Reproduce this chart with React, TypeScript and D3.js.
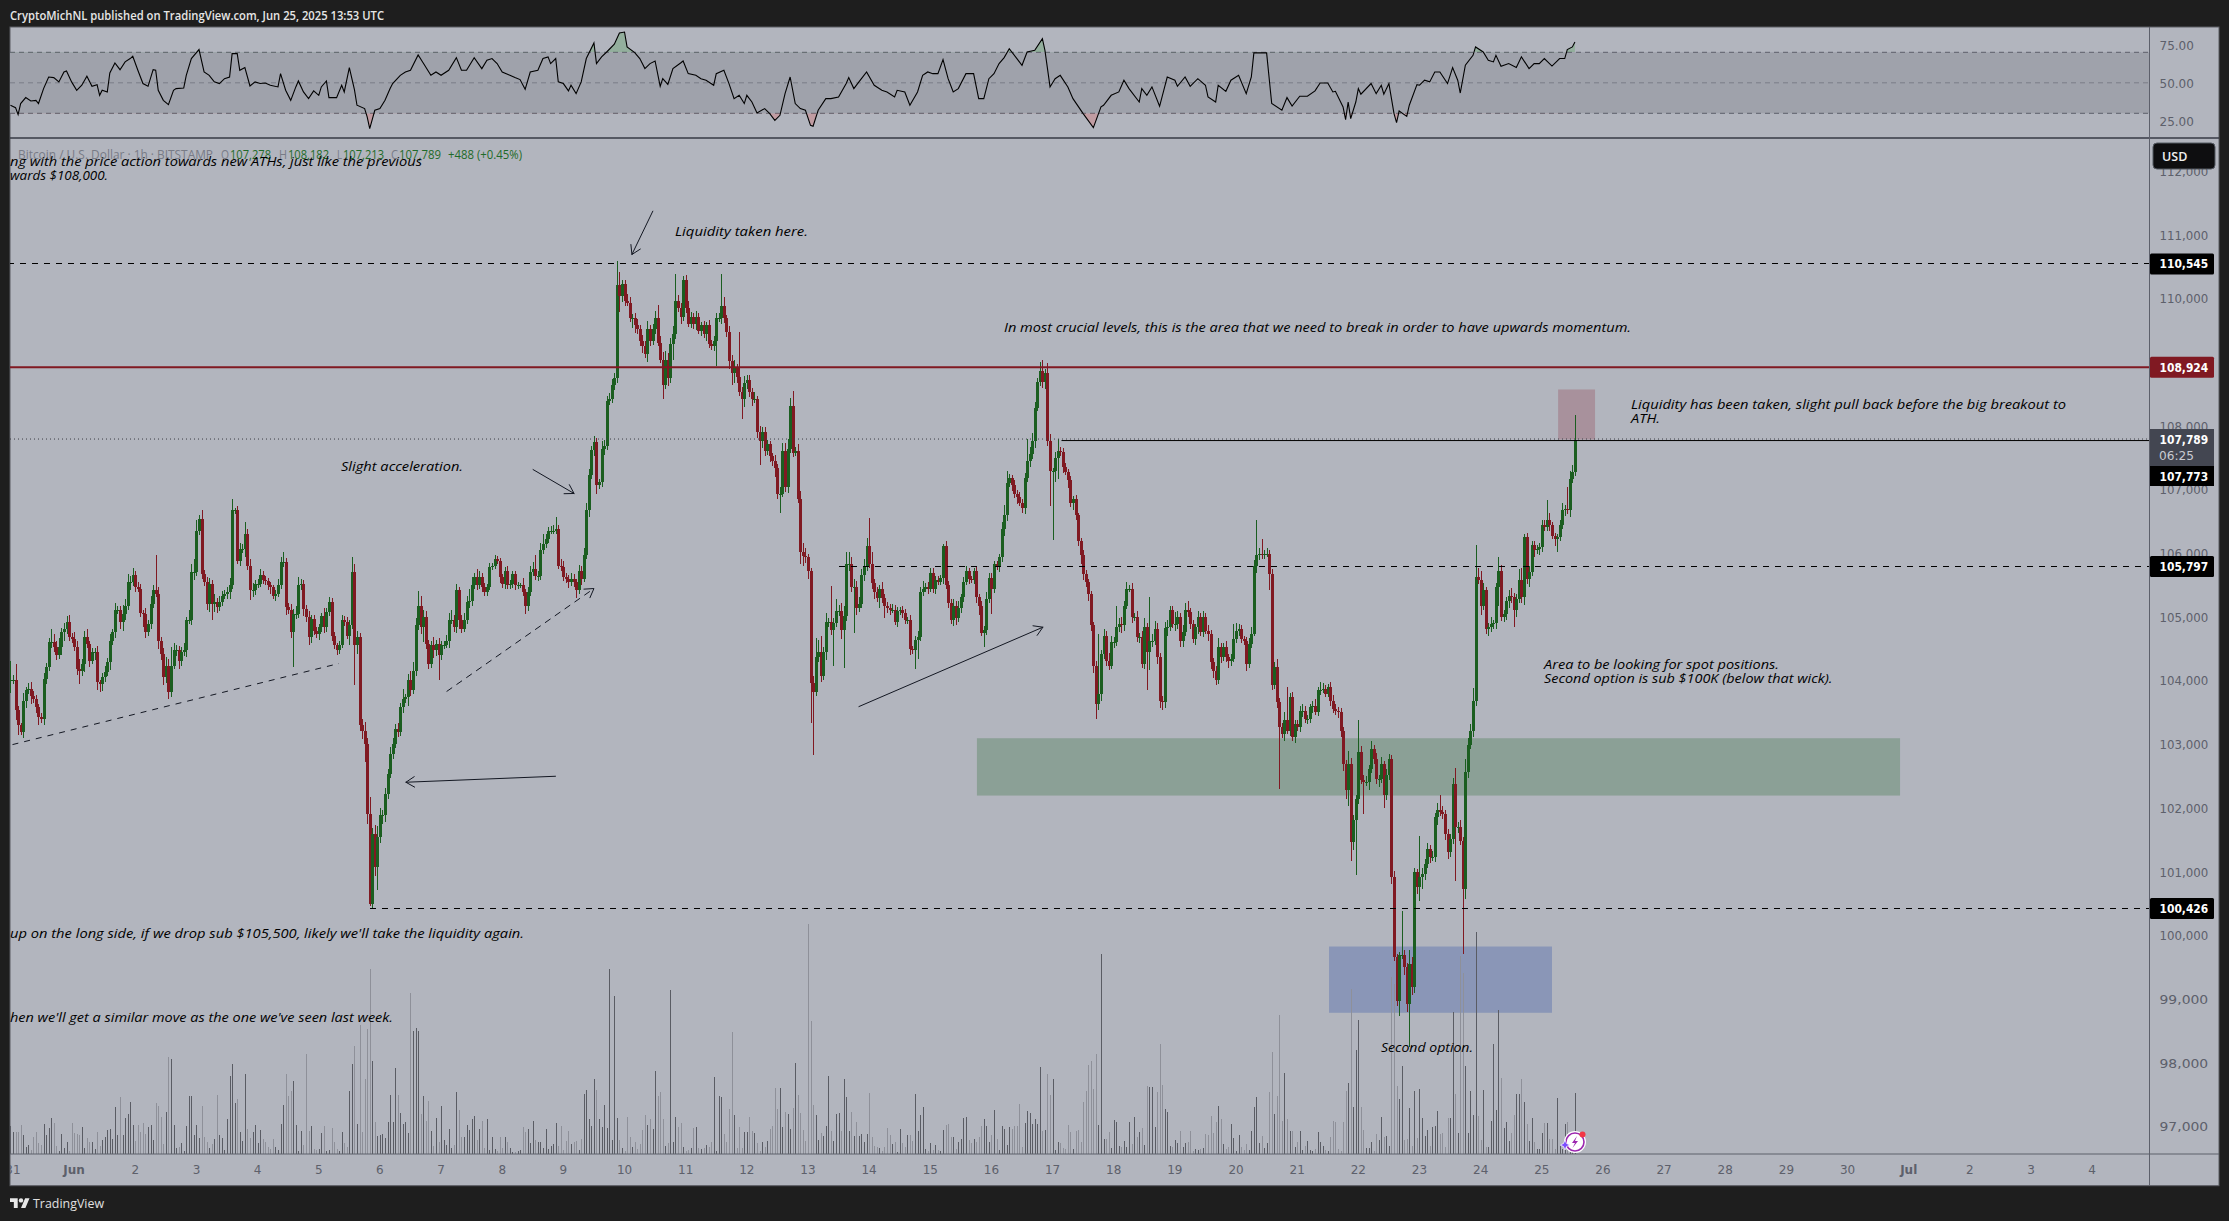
import React from "react";
import * as d3 from "d3";

// ---------- chart values ----------
// hourly closes, first value is May 30 22:00 UTC; rows are whole days from May 31
const closes = [
104010,104010,
104010,103540,103300,103200,103690,103850,103880,103770,103720,103590,103430,103400,104030,104220,104610,104610,104530,104400,104530,104770,104820,104920,104690,104660,
104530,104190,104160,104270,104690,104580,104320,104450,104450,103980,103950,104060,104140,104290,104630,104770,105110,105110,104920,105050,105180,105550,105550,105670,
105470,105450,105070,105050,104770,104900,105210,105420,105370,104630,104430,104060,104240,103820,104240,104480,104480,104320,104450,104480,104950,104950,105710,105710,
106360,106540,105680,105550,105210,105520,105210,105240,105160,105240,105340,105370,105390,105500,106680,106680,105890,106070,106070,106310,105810,105420,105420,105520,
105520,105660,105580,105570,105500,105470,105340,105370,105500,105860,105860,105160,105110,104770,105050,105050,105500,105520,105130,105000,104690,104970,104790,104740,
104840,105020,104840,105080,105240,104710,104560,104480,104560,104950,104920,104710,104870,105710,104560,104690,103300,103220,103010,101910,100500,101600,101080,101550,
101890,101890,102230,102540,102860,103010,103250,103200,103590,103720,103740,104010,103850,104160,104870,105180,104840,105000,104580,104270,104570,104480,104580,104400,
104560,104560,104630,104950,104950,104840,105420,104950,104820,104950,105240,105260,105500,105630,105500,105630,105470,105390,105470,105790,105810,105920,105890,105630,
105520,105730,105500,105520,105680,105500,105500,105500,105390,105180,105390,105710,105750,105640,105640,106050,106150,106230,106360,106360,106360,106390,105810,105790,
105630,105600,105550,105600,105550,105430,105730,105600,105970,106680,107230,107620,107750,107070,107130,107640,107690,108400,108420,108640,108750,110210,110040,110230,
109960,109940,109690,109690,109580,109530,109340,109260,109130,109530,109340,109530,109690,109310,109040,108640,109040,108750,109290,109450,109960,109850,109720,110290,
109860,109610,109720,109610,109720,109500,109580,109450,109580,109290,109260,109340,109690,109690,109880,109690,109480,109020,108830,108910,108770,108530,108420,108670,
108720,108530,108420,108420,107910,107770,107910,107610,107720,107530,107450,107340,106940,106940,107610,107040,107640,108310,107580,107610,106850,106020,105960,105940,
105720,103960,103830,104370,104450,104070,104450,104930,104930,104800,104910,105100,105100,104800,105020,105830,105830,105480,105480,105150,105200,105660,105800,106120,
105830,105530,105390,105300,105450,105300,105180,105150,105120,105120,104930,105100,105120,105070,104960,104960,104500,104480,104640,104690,105390,105450,105480,105450,
105690,105450,105590,105560,105610,106120,105500,105230,104960,105180,104990,105150,105310,105560,105720,105600,105590,105720,105310,105180,104750,104800,105290,105610,
105450,105830,105800,105940,106390,106610,107100,107180,107070,106940,106880,106800,106720,107180,107450,107560,107770,108290,108690,108860,108690,108830,107770,107290,
107290,107500,107610,107590,107360,107280,107150,106790,106860,106600,106200,105970,105680,105550,105370,104870,104240,103640,103800,104430,104710,104320,104240,104610,
104610,104840,104900,104870,105180,105450,105450,105000,105000,104690,104690,104270,104840,104450,104630,104630,104820,104370,103690,103670,104830,104840,105110,104900,
104900,105000,104630,104760,105110,105080,104900,104660,104840,105000,104760,105000,104790,104740,104290,104160,104010,104530,104370,104530,104370,104320,104350,104660,
104790,104820,104660,104630,104270,104580,104740,105810,105970,106000,105970,106000,106000,105680,103930,104220,103670,103270,103170,103380,103220,103740,103120,103320,
103270,103530,103530,103400,103400,103590,103610,103510,103850,103860,103870,103800,103900,103690,103560,103530,103510,103220,102700,102280,102700,101470,101810,102150,
102880,102440,102410,102410,102620,102930,102780,102460,102460,102700,102210,102520,102780,100920,99660,98980,99690,99690,99510,98930,99560,99190,101000,100760,
100920,100970,101130,101360,101230,101230,101860,101970,101940,101910,101600,101310,101520,102380,101700,101700,101490,100740,102570,102990,103220,103690,105630,105580,
105180,105420,104820,104840,104900,104910,105470,105730,105000,105050,105260,105340,105310,105110,105290,105580,105310,106260,105600,105710,106130,106050,106070,106100,
106440,106410,106520,106440,106280,106230,106260,106440,106680,106700,106680,107170,107278,107789,
];
// distance of each high above the candle body, in dollars
const wickUp = [
150,300,
80,260,60,40,120,50,90,110,70,60,40,60,90,60,70,200,120,100,140,60,90,100,120,60,
110,90,160,80,100,120,50,60,70,100,40,60,90,70,100,50,120,70,60,140,100,130,90,110,
60,90,70,50,100,60,130,80,550,110,60,90,140,100,300,120,90,70,80,110,60,160,130,200,
160,70,140,60,80,100,60,120,60,90,70,60,80,120,170,30,60,100,80,180,70,100,110,60,
80,90,70,60,50,60,40,50,100,90,160,70,60,90,80,120,130,80,70,60,90,60,70,50,
60,50,130,60,70,60,50,40,60,90,70,80,90,235,120,90,60,100,130,100,260,90,130,170,
120,80,90,70,100,90,80,90,70,150,60,100,150,130,110,235,150,120,90,60,50,120,60,100,
70,60,90,110,160,90,100,60,80,120,90,180,130,60,120,100,70,60,50,60,40,60,40,40,
50,60,70,60,50,50,60,40,110,60,90,100,120,230,90,110,150,80,60,70,80,190,50,100,
90,60,70,90,80,50,90,80,110,120,90,70,90,60,40,120,90,80,100,100,80,380,210,60,
60,110,80,70,90,100,60,90,80,120,60,70,110,216,100,130,140,110,90,120,430,100,90,60,
80,100,70,60,80,50,60,70,60,90,60,70,90,80,513,150,60,90,100,120,60,700,90,120,
90,80,70,120,60,90,70,80,60,50,40,90,60,100,120,130,150,135,240,60,110,130,140,120,
50,60,120,300,190,250,80,130,60,565,80,180,90,130,160,200,190,110,120,90,110,100,120,130,
430,200,70,80,60,100,70,60,50,90,70,60,40,60,60,50,70,50,60,90,80,120,60,70,
80,90,60,50,60,30,80,70,60,110,70,100,60,70,90,60,50,60,90,60,70,60,110,90,
80,60,50,60,100,150,190,70,60,80,50,90,60,80,350,110,120,90,70,140,170,60,160,100,
60,90,180,60,70,60,50,60,50,60,40,50,90,60,50,40,60,70,940,60,110,70,120,90,
80,340,90,100,80,105,60,90,70,100,60,90,140,70,690,110,120,90,70,80,100,120,70,60,
180,90,60,110,120,150,70,60,60,90,60,100,60,80,60,70,80,150,70,60,90,50,80,235,
120,70,60,50,60,90,100,90,550,90,220,50,90,60,80,70,120,60,70,130,520,70,90,70,
60,80,100,70,60,50,70,110,60,130,90,60,50,80,90,70,60,60,50,60,200,90,90,60,
500,100,80,100,60,130,70,90,60,100,50,90,70,60,100,60,60,700,90,60,220,100,60,50,
640,90,70,100,60,100,70,120,235,90,60,80,70,90,260,80,110,60,210,110,100,200,500,150,
150,120,60,70,100,50,70,220,90,60,60,90,120,70,80,180,200,50,60,90,70,60,60,60,
90,80,320,120,60,40,50,90,110,60,340,120,110,393,
];
// distance of each low below the candle body, in dollars
const wickDown = [
250,200,
60,160,150,50,90,110,60,130,70,90,120,60,100,80,60,90,70,70,60,120,150,80,60,70,
60,90,210,80,130,70,100,60,120,130,120,110,80,60,120,70,90,60,100,130,90,60,120,60,
80,60,60,210,90,70,80,60,60,130,100,120,90,110,70,60,90,130,90,60,100,60,70,120,
60,70,80,60,90,130,260,130,100,60,70,60,80,100,60,60,60,90,60,130,70,150,100,70,
60,50,60,70,80,100,60,80,60,50,70,130,60,100,550,80,60,70,110,70,120,90,70,60,
100,80,90,70,60,80,60,80,60,50,60,50,150,60,630,130,90,130,280,150,30,60,150,370,
100,140,100,80,70,90,60,80,70,100,60,130,90,60,80,70,110,230,80,90,60,120,90,390,
70,60,50,120,60,80,90,130,70,60,50,90,80,60,70,60,80,60,50,40,50,60,60,90,
60,80,60,50,60,70,50,40,60,130,90,60,60,60,70,50,60,60,60,50,60,50,60,70,
60,70,90,60,80,130,60,90,50,60,100,60,90,140,60,80,90,60,70,60,80,70,243,90,
70,60,50,150,120,90,80,110,60,120,90,60,80,60,50,216,60,120,80,260,90,60,110,70,
90,60,70,80,100,60,90,60,120,70,60,80,400,60,90,70,80,120,190,150,90,60,313,120,
90,70,100,60,90,378,120,80,60,100,70,140,90,297,60,70,90,70,60,50,60,190,150,90,
120,620,1000,60,70,90,60,120,90,80,570,60,80,150,600,80,110,90,730,120,70,60,90,70,
60,90,100,60,150,70,190,90,80,60,50,80,60,90,60,70,90,60,300,300,70,60,60,80,
50,70,80,60,50,90,60,80,70,100,120,60,90,70,60,80,60,70,90,140,50,210,80,60,
400,70,60,90,70,110,100,60,90,70,110,60,80,100,60,90,70,120,60,60,90,110,80,540,
1080,160,330,60,90,50,120,60,100,70,80,130,90,80,120,90,120,243,100,120,80,90,70,60,
90,60,70,120,80,50,60,90,60,80,100,60,90,600,280,90,70,110,120,120,90,120,60,70,
110,80,100,90,60,70,80,60,90,100,60,70,50,110,100,120,70,60,90,60,70,110,90,60,
70,80,60,60,110,60,60,40,120,70,60,50,60,260,80,60,90,970,60,120,60,80,60,90,
60,70,90,60,80,60,100,50,60,70,50,60,60,90,70,60,90,100,120,130,240,290,130,860,
90,60,500,60,120,70,80,80,120,60,200,80,70,110,60,90,235,60,120,130,680,120,90,100,
210,180,90,70,90,60,70,120,60,80,90,110,70,80,840,90,60,1020,157,90,60,100,90,60,
150,60,90,110,70,90,100,290,60,70,90,120,80,260,100,60,90,120,80,120,70,100,60,90,
70,60,50,80,60,120,210,70,60,90,60,100,70,65,
];
const volumes = [
10,28,
22,22,22,29,19,7,9,4,17,22,11,9,30,19,26,36,31,8,3,20,6,12,3,31,
21,20,19,27,6,16,12,12,5,22,8,14,17,24,25,15,47,19,57,19,36,40,52,29,
13,29,22,31,20,27,29,14,51,48,37,10,42,97,95,29,6,7,11,3,28,58,58,19,
29,16,48,17,12,6,10,15,59,19,16,4,35,78,90,51,55,22,13,80,25,16,22,29,
11,24,15,12,7,5,15,7,4,30,49,80,58,63,73,29,3,23,9,100,23,28,5,4,
5,21,28,3,4,26,12,5,3,22,11,7,63,90,108,30,129,22,75,125,185,93,32,18,
19,20,16,32,59,32,86,59,41,30,32,21,161,123,126,123,40,58,33,53,23,8,36,12,
48,14,9,25,6,9,62,44,17,17,29,24,35,38,14,25,33,6,35,4,17,5,3,17,
6,17,12,6,2,2,3,4,27,22,25,11,33,14,12,12,6,25,5,8,10,31,8,28,
4,13,23,10,12,13,4,15,60,64,35,28,75,64,35,27,49,26,185,14,158,36,14,6,
3,37,17,7,12,5,10,24,39,29,35,25,83,58,62,35,8,11,164,12,37,27,31,7,
3,4,6,26,27,6,5,6,9,7,12,77,3,58,57,20,12,45,122,39,6,27,6,22,
22,37,23,21,11,3,12,7,13,25,28,66,45,66,27,42,40,25,46,91,59,41,24,13,
230,133,49,39,14,21,18,28,78,23,13,40,41,23,75,57,23,42,18,32,18,20,12,20,
61,17,8,7,6,3,7,26,19,10,12,2,25,11,7,19,19,13,60,23,39,47,5,3,
11,4,9,4,3,24,29,30,17,17,5,12,15,36,37,14,11,15,12,17,28,35,28,12,
19,44,15,4,28,25,9,27,25,28,28,50,7,31,43,41,30,35,30,87,23,24,80,59,
75,4,12,11,6,5,29,22,5,23,24,12,52,63,89,93,65,100,29,200,15,15,22,6,
34,32,8,7,13,7,32,10,37,17,22,26,9,68,67,67,27,62,110,69,45,42,8,7,
14,11,23,7,11,12,23,3,5,4,5,6,20,19,38,21,32,48,35,10,5,7,30,16,
3,19,7,4,10,4,23,47,57,11,18,6,11,62,102,40,58,139,33,81,35,23,23,7,
12,23,4,8,13,4,3,5,22,12,8,4,3,17,33,32,5,3,32,63,71,165,47,104,
134,47,24,6,6,12,3,20,14,37,17,18,8,177,170,68,55,88,14,15,46,8,63,16,
65,36,18,24,8,27,28,43,20,21,7,36,36,142,60,21,198,181,88,21,63,39,222,38,
14,64,7,7,33,110,44,144,76,26,32,13,21,39,60,60,75,52,30,13,36,12,5,5,
21,31,31,15,15,5,56,10,5,30,32,5,3,61,
];
const rsiHours = [-1,1,2,3,5,7,9,10,12,14,16,18,20,21,23,25,27,29,31,33,34,35,37,38,40,42,44,46,47,49,51,53,55,56,57,59,61,63,64,67,68,70,73,75,77,79,81,83,85,86,88,89,91,93,95,97,99,101,104,105,107,109,111,112,114,116,118,120,121,123,124,127,129,130,132,134,135,138,139,140,142,144,146,148,149,152,154,156,159,161,164,166,168,171,174,176,178,181,184,186,188,190,192,195,197,199,201,203,206,208,210,211,213,214,216,218,219,221,223,225,228,229,231,233,236,238,240,241,244,246,248,250,252,254,255,257,259,262,263,265,268,270,272,275,276,279,281,283,285,287,288,290,292,295,297,299,301,303,305,307,309,311,313,314,316,319,321,324,327,328,330,332,335,338,341,343,346,347,350,352,355,357,359,361,363,365,367,369,371,374,377,379,381,383,385,387,389,391,394,396,398,401,404,405,407,409,411,414,416,420,424,427,428,431,434,436,438,442,443,445,447,450,453,456,457,460,462,465,468,469,472,473,476,478,481,484,486,487,492,494,498,500,502,505,508,511,513,516,518,519,522,523,524,525,527,528,529,533,535,537,538,540,542,543,544,547,548,551,552,554,556,558,560,563,565,567,568,570,573,574,577,579,581,582,584,587,590,592,595,597,599,601,604,607,609,610,612,613];
const rsiValues = [35.3,33.7,29.1,36.4,40.3,38.1,38.5,36.4,46.2,53.8,53.4,50.6,57.1,57.8,50.6,45.1,48.4,54.3,47.7,48.8,41.8,45.1,44,56.5,63,58.6,63.7,65.9,67.4,58.2,49.5,47.7,58.6,58.2,45.1,38.5,35.7,45.1,46.2,46.6,54.9,65.9,71.8,57.1,54.9,50.6,49.5,52.7,53.8,69.1,69.1,58.2,60,47.9,50.6,49.5,49.9,48.4,47.3,56,45.1,38.5,47.3,51.2,44,39.6,44.7,41.8,47.3,51.2,40.3,40.3,48.4,44,60,45.5,35.3,33.1,27.6,20,32,33.1,38.5,46.2,49.5,54.9,57.1,58.2,68.3,63,54.9,57.1,54.9,58.2,66.5,58.2,58.2,66.5,59.3,64.8,65.9,62.6,57.1,54.9,53.4,52.1,45.7,57.1,58.2,65.9,67,62.6,65.9,50.6,49.5,44.7,48.4,42.9,50.6,65.9,76.1,62.6,67,70.2,75.3,82.7,83.3,73.5,69.8,65.9,59.3,62.6,64.3,47.7,52.7,49,59.3,63,64.3,56,54.9,52.7,51.7,48.4,56,58.2,49.5,39.6,41.8,36.4,41.8,37.4,30.2,33.1,29.8,25.4,28.7,42.9,53.8,36.4,33.1,32,22.1,21.5,32,39.6,39.6,40.7,49.5,53.4,46.2,50.6,57.1,48.4,45.1,44,40.7,45.1,44,35.3,44,54.9,57.1,56,56,65.2,52.7,44,46.2,56,56,39.6,39.6,52.7,56,62.6,66.5,72.4,65.9,61.5,70.2,71.3,79,71.3,47.3,52.7,54.9,47.3,39.6,29.8,20.6,34.2,35.3,41.8,44,51.7,46.2,37.4,46.2,41.8,47.3,34.6,53.8,51.7,47.7,53.8,47.7,52.7,48.4,40.7,37.4,48.4,44.4,51.7,54.9,42.9,53.8,69.6,69.6,36.4,32,40.3,34.8,41.2,41.2,44.7,49.9,49.9,44,44.4,34.2,25.9,37.4,26.5,37.4,46.2,42.5,49.5,42.9,48.4,42.5,49.5,29.8,23.9,31.5,28,35.3,48.8,48.4,51.7,50.6,57.1,57.1,49.5,60,51.7,43.3,61.5,68,73.5,70.2,64.8,63.7,68,60.8,62.6,60,67,59.3,62.6,62.6,65.9,61,65.9,65.9,71.8,73.5,76.8];

const priceTicks = [112000,111000,110000,109000,108000,107000,106000,105000,104000,103000,102000,101000,100000,99000,98000,97000];
const rsiTicks = [75,50,25];
const rsiLevels = [70,50,30];
const dayLabels = ["31","Jun","2","3","4","5","6","7","8","9","10","11","12","13","14","15","16","17","18","19","20","21","22","23","24","25","26","27","28","29","30","Jul","2","3","4"];
const priceLevels = [
  { price: 110545, from: -2, dash: "6 6" },
  { price: 105797, from: 324, dash: "6 6" },
  { price: 100426, from: 140.3, dash: "6 6" },
];
const labelBoxes = [
  { price: 110545, label: "110,545", fill: "#000000" },
  { price: 108924, label: "108,924", fill: "#801922" },
  { price: 105797, label: "105,797", fill: "#000000" },
  { price: 100426, label: "100,426", fill: "#000000" },
];
const zones = [
  { h0: 378.3, h1: 740.6, p0: 103100, p1: 102200, fill: "#8ba096" },
  { h0: 606.4, h1: 620.9, p0: 108575, p1: 107789, fill: "#a8919c" },
  { h0: 516.5, h1: 604, p0: 99830, p1: 98790, fill: "#8a96b7" },
];
const arrows = [
  { h0: 251.1, p0: 111374, h1: 242.9, p1: 110694, dash: "" },
  { h0: 204.1, p0: 107318, h1: 220.2, p1: 106942, dash: "" },
  { h0: 212.9, p0: 102503, h1: 154.2, p1: 102409, dash: "" },
  { h0: 332, p0: 103597, h1: 404.2, p1: 104843, dash: "" },
  { h0: 170.3, p0: 103837, h1: 228, p1: 105450, dash: "6 6" },
];
const trendLine = { h0: -0.2, p0: 103000, h1: 127.9, p1: 104273 };
const notes = [
  { t: "ng with the price action towards new ATHs, just like the previous", x: 10, x2: 422, y: 161 },
  { t: "wards $108,000.", x: 10, x2: 108, y: 175 },
  { t: "Liquidity taken here.", x: 675, x2: 808, y: 231 },
  { t: "In most crucial levels, this is the area that we need to break in order to have upwards momentum.", x: 1004, x2: 1631, y: 327 },
  { t: "Slight acceleration.", x: 341, x2: 463, y: 466 },
  { t: "Liquidity has been taken, slight pull back before the big breakout to", x: 1631, x2: 2066, y: 404 },
  { t: "ATH.", x: 1631, x2: 1660, y: 418 },
  { t: "Area to be looking for spot positions.", x: 1544, x2: 1779, y: 664 },
  { t: "Second option is sub $100K (below that wick).", x: 1544, x2: 1832.5, y: 678 },
  { t: "up on the long side, if we drop sub $105,500, likely we'll take the liquidity again.", x: 10, x2: 524, y: 933 },
  { t: "hen we'll get a similar move as the one we've seen last week.", x: 10, x2: 393, y: 1017 },
  { t: "Second option.", x: 1381, x2: 1473, y: 1047 },
];
const legendParts = [
  { t: "Bitcoin / U.S. Dollar · 1h · BITSTAMP", x: 18, x2: 213, c: "#787b86" },
  { t: "O", x: 221, x2: 229, c: "#787b86" },
  { t: "107,278", x: 230, x2: 271, c: "#1f6b29" },
  { t: "H", x: 279, x2: 287, c: "#787b86" },
  { t: "108,182", x: 288, x2: 329, c: "#1f6b29" },
  { t: "L", x: 337, x2: 342, c: "#787b86" },
  { t: "107,213", x: 343, x2: 384, c: "#1f6b29" },
  { t: "C", x: 391, x2: 398, c: "#787b86" },
  { t: "107,789", x: 399, x2: 441, c: "#1f6b29" },
  { t: "+488 (+0.45%)", x: 448, x2: 522, c: "#1f6b29" },
];

// ---------- colours ----------
const DARK = "#1e1e1e";
const PANE = "#b2b5be";
const BAND = "#9fa2ab";
const UP = "#1b5e20";
const DOWN = "#801922";
const AXIS = "#5d606b";
const INK = "#131722";
const UI = "'DejaVu Sans', sans-serif";
const NOTE = "'Open Sans', sans-serif";

// ---------- layout ----------
const left = 10, right = 2149.5, paneRight = 2219, top = 27, rsiBottom = 138, bottom = 1154, end = 1185.7;

const x = d3.scaleLinear().domain([0, 744]).range([13, 13 + 2.548 * 744]);
const y = d3.scaleLinear().domain([111000, 97000]).range([235, 1126.8]);
const yRsi = d3.scaleLinear().domain([70, 30]).range([52.3, 113.3]);
const yVol = d3.scaleLinear().domain([0, 230]).range([bottom, bottom - 230]);

const candles = closes.map((c, i) => {
  const o = i === 0 ? c : closes[i - 1];
  const hi = Math.max(o, c) + (wickUp[i] ?? 0);
  const lo = Math.min(o, c) - (wickDown[i] ?? 0);
  return { h: i - 2, o, c, hi, lo, vol: volumes[i] ?? 0, up: c >= o };
});

const rsiPoints = rsiHours.map((h, i) => ({ h, v: rsiValues[i] }));
const rsiLine = d3.line<any>().x((d) => x(d.h)).y((d) => yRsi(d.v));
const rsiArea = (base: number) =>
  d3.area<any>().x((d) => x(d.h)).y0(yRsi(base)).y1((d) => yRsi(d.v));

const fmt = d3.format(",");

function Arrow({ a }: { a: (typeof arrows)[number] }) {
  const x0 = x(a.h0), y0 = y(a.p0), x1 = x(a.h1), y1 = y(a.p1);
  const ang = Math.atan2(y1 - y0, x1 - x0);
  const L = 10, S = 0.55;
  const p1 = [x1 - L * Math.cos(ang - S), y1 - L * Math.sin(ang - S)];
  const p2 = [x1 - L * Math.cos(ang + S), y1 - L * Math.sin(ang + S)];
  return (
    <g stroke={INK} strokeWidth={1} fill="none" strokeLinecap="round">
      <line x1={x0} y1={y0} x2={x1} y2={y1} strokeDasharray={a.dash || undefined} />
      <path d={`M${p1[0]},${p1[1]}L${x1},${y1}L${p2[0]},${p2[1]}`} />
    </g>
  );
}

export default function App() {
  return (
    <svg
      width={2229}
      height={1221}
      viewBox="0 0 2229 1221"
      style={{ position: "fixed", left: 0, top: 0, display: "block" }}
    >
      <defs>
        <clipPath id="mainClip"><rect x={left} y={rsiBottom} width={right - left} height={bottom - rsiBottom} /></clipPath>
        <clipPath id="rsiClip"><rect x={left} y={top} width={right - left} height={rsiBottom - top} /></clipPath>
        <clipPath id="rsiOver"><rect x={left} y={top} width={right - left} height={yRsi(70) - top} /></clipPath>
        <clipPath id="rsiUnder"><rect x={left} y={yRsi(30)} width={right - left} height={rsiBottom - yRsi(30)} /></clipPath>
        <clipPath id="timeClip"><rect x={left} y={bottom} width={right - left} height={end - bottom} /></clipPath>
      </defs>

      <rect x={0} y={0} width={2229} height={1221} fill={DARK} />
      <rect x={left} y={top} width={paneRight - left} height={end - top} fill={PANE} stroke="#5a5c63" strokeWidth={1} />

      <text x={10} y={19.5} fontFamily={NOTE} fontSize={12.5} fontWeight={600} fill="#e6e6e6" textLength={374} lengthAdjust="spacingAndGlyphs">
        CryptoMichNL published on TradingView.com, Jun 25, 2025 13:53 UTC
      </text>

      {/* RSI pane */}
      <g clipPath="url(#rsiClip)">
        <rect x={left} y={yRsi(70)} width={right - left} height={yRsi(30) - yRsi(70)} fill={BAND} />
        {rsiLevels.map((l) => (
          <line key={l} x1={left} x2={right} y1={yRsi(l)} y2={yRsi(l)} stroke={AXIS} strokeDasharray="5 4" strokeWidth={1} opacity={l === 50 ? 0.55 : 1} />
        ))}
        <path d={rsiArea(70)(rsiPoints) ?? ""} fill="#43a047" opacity={0.28} clipPath="url(#rsiOver)" />
        <path d={rsiArea(30)(rsiPoints) ?? ""} fill="#ef5350" opacity={0.25} clipPath="url(#rsiUnder)" />
        <path d={rsiLine(rsiPoints) ?? ""} fill="none" stroke="#000" strokeWidth={1.1} />
      </g>

      {/* main pane */}
      <g clipPath="url(#mainClip)">
        {zones.map((z, i) => (
          <rect key={i} x={x(z.h0)} y={y(z.p0)} width={x(z.h1) - x(z.h0)} height={y(z.p1) - y(z.p0)} fill={z.fill} />
        ))}
        <g shapeRendering="crispEdges">
          {candles.map((d) => (
            <rect key={d.h} x={Math.round(x(d.h))} y={yVol(d.vol)} width={1} height={bottom - yVol(d.vol)} fill={d.up ? "#5a5c64" : "#8e9099"} />
          ))}
          {candles.map((d) => {
            const col = d.up ? UP : DOWN;
            const top_ = y(Math.max(d.o, d.c));
            const h_ = Math.max(1, y(Math.min(d.o, d.c)) - top_);
            return (
              <g key={d.h} fill={col}>
                <rect x={Math.round(x(d.h))} y={y(d.hi)} width={1} height={y(d.lo) - y(d.hi)} />
                <rect x={Math.round(x(d.h)) - 1} y={top_} width={3} height={h_} />
              </g>
            );
          })}
        </g>
        {priceLevels.map((l) => (
          <line key={l.price} x1={x(l.from)} x2={right} y1={y(l.price)} y2={y(l.price)} stroke="#000" strokeDasharray={l.dash} strokeWidth={1} shapeRendering="crispEdges" />
        ))}
        <line x1={left} x2={right} y1={y(108924)} y2={y(108924)} stroke={DOWN} strokeWidth={2} />
        <line x1={left} x2={right} y1={y(107789) - 0.5} y2={y(107789) - 0.5} stroke="#3a3c44" strokeWidth={1} strokeDasharray="1 3" />
        <line x1={x(411.5)} x2={right} y1={y(107773)} y2={y(107773)} stroke="#000" strokeWidth={1} />
        <line x1={x(trendLine.h0)} y1={y(trendLine.p0)} x2={x(trendLine.h1)} y2={y(trendLine.p1)} stroke={INK} strokeWidth={1} strokeDasharray="6 6" />
        {arrows.map((a, i) => <Arrow key={i} a={a} />)}
        {legendParts.map((p, i) => (
          <text key={i} x={p.x} y={158.5} fontFamily={NOTE} fontSize={12} fill={p.c} textLength={p.x2 - p.x} lengthAdjust="spacingAndGlyphs">
            {p.t}
          </text>
        ))}
        {notes.map((n, i) => (
          <text key={i} x={n.x} y={n.y + 4.5} fontFamily={NOTE} fontStyle="italic" fontWeight={500} fontSize={13.5} fill="#000" textLength={n.x2 - n.x} lengthAdjust="spacingAndGlyphs">
            {n.t}
          </text>
        ))}
      </g>

      {/* spark badge */}
      <g>
        <circle cx={1575} cy={1142} r={11} fill="#ffffff" />
        <circle cx={1575} cy={1142} r={9} fill="none" stroke="#9c27b0" strokeWidth={1.6} />
        <path d="M1577,1136 L1572,1143 L1575,1143 L1572.5,1148 L1578,1141 L1575,1141 Z" fill="#9c27b0" />
        <circle cx={1582.5} cy={1134.5} r={3} fill="#f23645" />
        <path d="M1565,1140 L1566.5,1143.5 L1570,1145 L1566.5,1146.5 L1565,1150 L1563.5,1146.5 L1560,1145 L1563.5,1143.5 Z" fill="#7c4dff" stroke="#fff" strokeWidth={0.7} />
      </g>

      {/* frame lines */}
      <line x1={left} x2={paneRight} y1={rsiBottom} y2={rsiBottom} stroke="#363a45" strokeWidth={1.4} />
      <line x1={right} x2={right} y1={top} y2={end} stroke={AXIS} strokeWidth={1} />
      <line x1={left} x2={paneRight} y1={bottom} y2={bottom} stroke={AXIS} strokeWidth={1} />

      {/* RSI axis */}
      {rsiTicks.map((t) => (
        <text key={t} x={2159.5} y={yRsi(t) + 5} fontFamily={UI} fontSize={12} fill={AXIS}>{t.toFixed(2)}</text>
      ))}

      {/* price axis */}
      {priceTicks.map((t) => (
        <text key={t} x={2159.5} y={y(t) + 4.5} fontFamily={UI} fontSize={12} fill={AXIS} textLength={48.7} lengthAdjust="spacingAndGlyphs">{fmt(t)}</text>
      ))}

      {labelBoxes.map((b) => (
        <g key={b.price}>
          <rect x={2150} y={y(b.price) - 10.5} width={64} height={21} rx={1.5} fill={b.fill} />
          <text x={2159.5} y={y(b.price) + 4.5} fontFamily={UI} fontWeight={700} fontSize={11.5} fill="#ffffff" textLength={48.7} lengthAdjust="spacingAndGlyphs">{b.label}</text>
        </g>
      ))}

      <rect x={2150} y={429} width={64} height={37} fill="#434651" />
      <text x={2159.5} y={443.5} fontFamily={UI} fontWeight={700} fontSize={11.5} fill="#ffffff" textLength={48.7} lengthAdjust="spacingAndGlyphs">107,789</text>
      <text x={2159} y={459.5} fontFamily={UI} fontSize={12} fill="#c9cbd1" textLength={35} lengthAdjust="spacingAndGlyphs">06:25</text>
      <rect x={2150} y={466} width={64} height={20} fill="#000000" />
      <text x={2159.5} y={480.5} fontFamily={UI} fontWeight={700} fontSize={11.5} fill="#ffffff" textLength={48.7} lengthAdjust="spacingAndGlyphs">107,773</text>

      <rect x={2153} y={143} width={62} height={26} rx={4} fill="#0e0e10" stroke="#555a63" />
      <text x={2162} y={160.5} fontFamily={NOTE} fontWeight={600} fontSize={12.5} fill="#f0f0f0">USD</text>

      {/* time axis */}
      <g clipPath="url(#timeClip)">
        {dayLabels.map((d, i) => {
          const major = d === "Jun" || d === "Jul";
          return (
            <text key={i} x={x(i * 24)} y={1174} textAnchor="middle" fontFamily={UI} fontSize={12} fontWeight={major ? 700 : 400} fill={AXIS}>{d}</text>
          );
        })}
      </g>

      {/* footer logo */}
      <g transform="translate(10,1196) scale(0.55)" fill="#e8e8e8">
        <path d="M14 22H7V11H0V4h14v18zM28 22h-8l7.5-18h8L28 22z" />
        <circle cx={20} cy={8} r={4} />
      </g>
      <text x={33} y={1208} fontFamily={NOTE} fontSize={13.5} fill="#e0e0e0" textLength={71} lengthAdjust="spacingAndGlyphs">TradingView</text>
    </svg>
  );
}
